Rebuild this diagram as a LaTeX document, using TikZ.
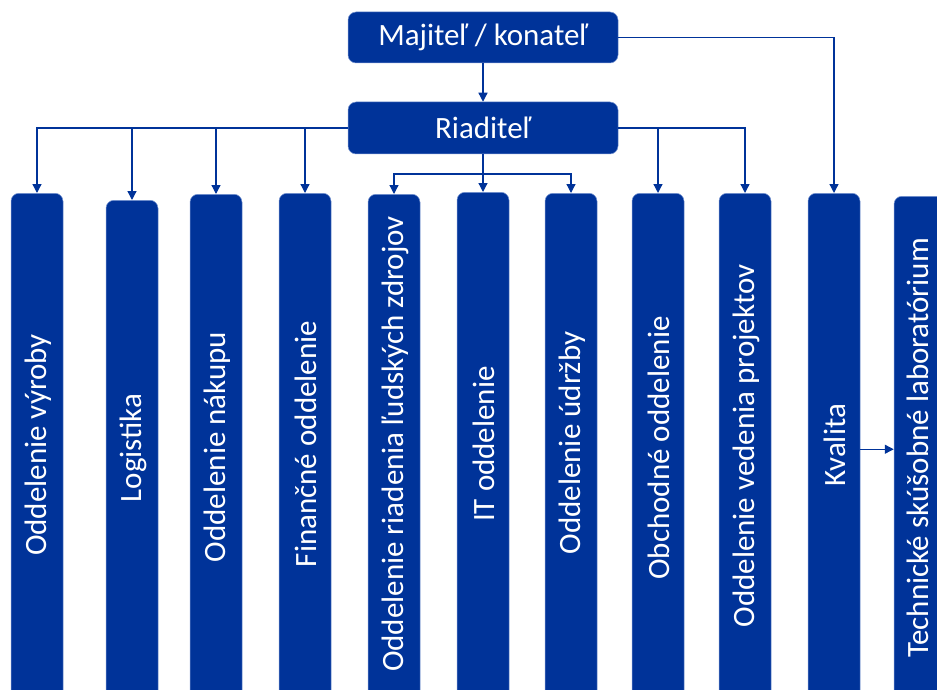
\documentclass[tikz,border=0pt]{standalone}
\usepackage{fontspec}
\setmainfont{Carlito}
\usetikzlibrary{arrows.meta}
\definecolor{orgblue}{RGB}{0,51,153}
\definecolor{rimblue}{RGB}{120,150,210}
\begin{document}
\begin{tikzpicture}[x=1pt,y=-1pt,
  headbox/.style={draw=rimblue, line width=0.5pt, fill=orgblue, rounded corners=8pt,
    minimum width=270pt, minimum height=51pt, inner sep=0pt, text=white,
    font=\fontsize{31}{33}\selectfont},
  deptbox/.style={draw=rimblue, line width=0.5pt, fill=orgblue, rounded corners=8pt,
    minimum width=52pt, inner sep=0pt, anchor=north},
  depttext/.style={rotate=90, text=white, font=\fontsize{31}{33}\selectfont, inner sep=0pt},
  link/.style={draw=orgblue, line width=1.3pt, -{Triangle[width=9pt,length=9pt]}},
]
\useasboundingbox (0,0) rectangle (937,690);
\fill[white] (0,0) rectangle (937,690);

% top management
\node[headbox] (owner) at (483,37.5) {Majiteľ / konateľ};
\node[headbox, minimum height=52pt] (director) at (483,128) {Riaditeľ};

% departments (running past the lower edge)
\begin{scope}
\clip (0,0) rectangle (937,690);
\node[deptbox, minimum height=512pt] (d1)  at (37,193)  {};
\node[deptbox, minimum height=505pt] (d2)  at (132,200) {};
\node[deptbox, minimum height=511pt] (d3)  at (216,194) {};
\node[deptbox, minimum height=512pt] (d4)  at (305,193) {};
\node[deptbox, minimum height=511pt] (d5)  at (394,194) {};
\node[deptbox, minimum height=513pt] (d6)  at (483,192) {};
\node[deptbox, minimum height=512pt] (d7)  at (571,193) {};
\node[deptbox, minimum height=512pt] (d8)  at (658,193) {};
\node[deptbox, minimum height=512pt] (d9)  at (745,193) {};
\node[deptbox, minimum height=512pt] (d10) at (834,193) {};
\node[deptbox, minimum height=509pt] (d11) at (920,196) {};
\end{scope}

\node[depttext] (t1)  at (38,445)  {Oddelenie výroby};
\node[depttext] (t2)  at (133,448) {Logistika};
\node[depttext] (t3)  at (217,447) {Oddelenie nákupu};
\node[depttext] (t4)  at (306,444) {Finančné oddelenie};
\node[depttext] (t5)  at (395,444) {Oddelenie riadenia ľudských zdrojov};
\node[depttext] (t6)  at (484,444) {IT oddelenie};
\node[depttext] (t7)  at (572,443) {Oddelenie údržby};
\node[depttext] (t8)  at (659,448) {Obchodné oddelenie};
\node[depttext] (t9)  at (746,446) {Oddelenie vedenia projektov};
\node[depttext] (t10) at (835,445) {Kvalita};
\node[depttext] (t11) at (918,448) {Technické skúšobné laboratórium};

% reporting lines
\coordinate (fork) at (483,174);
\draw[link] (owner) -- (director);
\draw[link] (owner.east) -| (d10.north);
\foreach \d in {d1,d2,d3,d4}
  \draw[link] (director.west) -| (\d.north);
\foreach \d in {d8,d9}
  \draw[link] (director.east) -| (\d.north);
\draw[link] (director.south) -- (fork) -| (d5.north);
\draw[link] (fork) -- (d6.north);
\draw[link] (fork) -| (d7.north);
\draw[link] (d10.east) -- (d10.east -| d11.west);
\end{tikzpicture}
\end{document}
